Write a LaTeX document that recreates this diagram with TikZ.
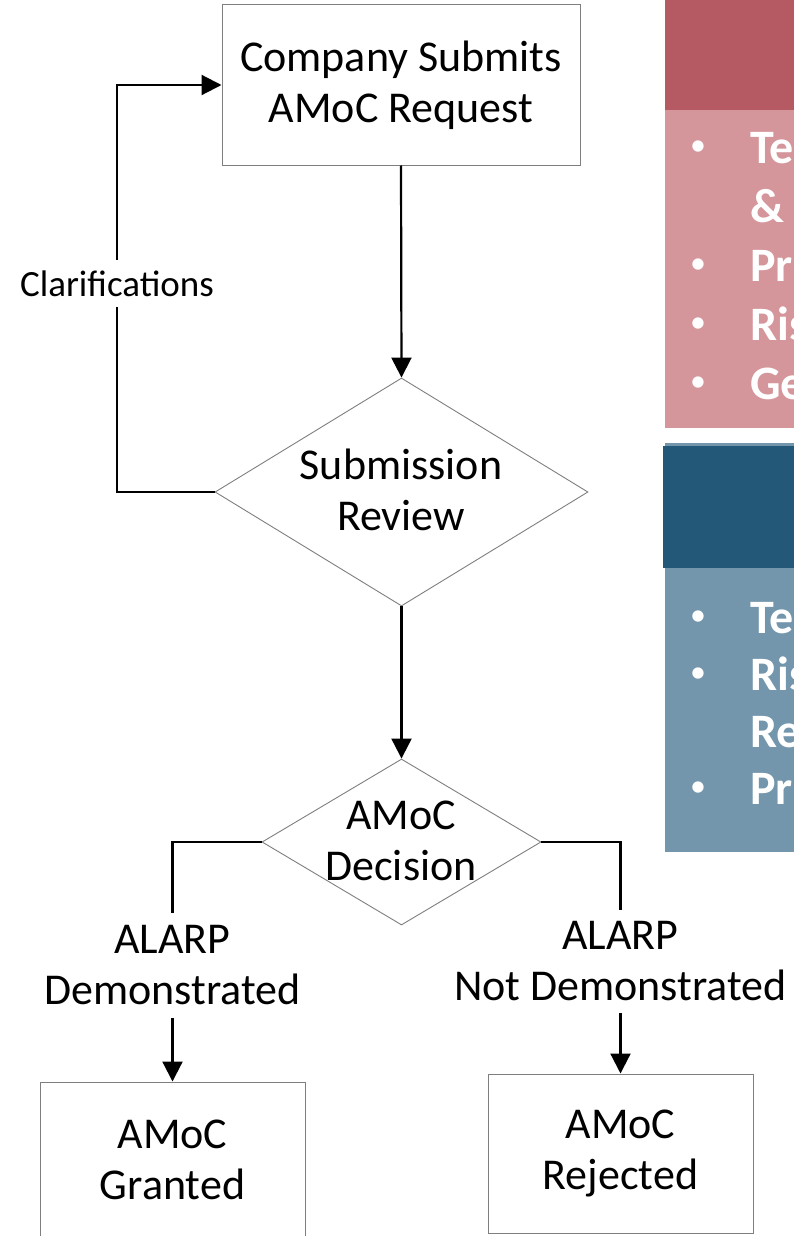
\documentclass[tikz,border=0pt]{standalone}
\usepackage{fontspec}
\setmainfont{Carlito}
\usetikzlibrary{shapes.geometric,arrows.meta}
\definecolor{redhead}{HTML}{B55A62}
\definecolor{redbody}{HTML}{D4969B}
\definecolor{bluehead}{HTML}{235878}
\definecolor{bluebody}{HTML}{7496AD}
\definecolor{edgegray}{HTML}{7F7F7F}
\newcommand{\bigtxt}{\fontsize{44}{51}\selectfont}
\newcommand{\cltxt}{\fontsize{37}{42}\selectfont}
\newcommand{\bultxt}{\fontsize{48}{58}\selectfont\bfseries}
\newcommand{\dottxt}{\fontsize{32}{40}\selectfont}
\tikzset{
  box/.style={draw=edgegray, line width=1pt, inner sep=0pt, align=center, font=\bigtxt},
  dia/.style={draw=edgegray, line width=0.9pt, diamond, inner sep=0pt},
  txt/.style={align=center, inner sep=0pt, font=\bigtxt},
  lab/.style={align=center, inner xsep=0pt, inner ysep=0pt, font=\bigtxt},
  line/.style={line width=2.2pt, black},
  conn/.style={line width=2.2pt, black, -{Triangle[length=20pt,width=20pt]}},
  bul/.style={anchor=center, inner sep=0pt, text=white, font=\dottxt},
  bultext/.style={anchor=base west, inner sep=0pt, text=white, font=\bultxt},
}
\begin{document}
\begin{tikzpicture}[x=1pt,y=-1pt]
\clip (0,0) rectangle (794,1236);
\fill[white] (0,0) rectangle (794,1236);
% right panels
\fill[redbody] (665,110) rectangle (800,428);
\fill[redhead] (665,0) rectangle (800,110);
\fill[bluebody] (665,443) rectangle (800,852);
\fill[bluehead] (663,446) rectangle (800,568);
\node[bul] (rb1) at (698,148) {•};
\node[bultext] (rt1) at (750,163) {Te};
\node[bultext] (rt2) at (750,222) {\&};
\node[bul] (rb3) at (698,266) {•};
\node[bultext] (rt3) at (750,281) {Pr};
\node[bul] (rb4) at (698,325) {•};
\node[bultext] (rt4) at (750,340) {Ris};
\node[bul] (rb5) at (698,384) {•};
\node[bultext] (rt5) at (750,399) {Ge};
\node[bul] (bb1) at (698,618) {•};
\node[bultext] (bt1) at (750,633) {Te};
\node[bul] (bb2) at (698,675) {•};
\node[bultext] (bt2) at (750,690) {Ris};
\node[bultext] (bt3) at (750,747) {Re};
\node[bul] (bb4) at (698,789) {•};
\node[bultext] (bt4) at (750,804) {Pr};
% flowchart
\node[box, minimum width=358pt, minimum height=160pt] (box1) at (401,85) {Company Submits\\AMoC Request};
\node[dia, minimum width=373pt, minimum height=228pt] (d1) at (401.5,492) {};
\node[txt] (d1t) at (401,490) {Submission\\Review};
\node[dia, minimum width=279pt, minimum height=166pt] (d2) at (401.5,842) {};
\node[txt] (d2t) at (401,841) {AMoC\\Decision};
\node[anchor=base, font=\cltxt, inner xsep=0pt, inner ysep=11pt, text height=25pt, text depth=0pt] (clar) at (117,296) {Clarifications};
\node[lab, minimum height=105pt] (labL) at (172.5,965.5) {ALARP\\Demonstrated};
\node[lab, minimum height=103pt] (labR) at (620.5,961.5) {ALARP\\Not Demonstrated};
\node[box, minimum width=265pt, minimum height=156pt] (box3) at (172.5,1160) {AMoC\\Granted};
\node[box, minimum width=265pt, minimum height=159pt] (box4) at (620.5,1153.5) {AMoC\\Rejected};
% connectors
\draw[conn] (box1.south) -- (d1.north);
\draw[conn] (d1.south) -- (d2.north);
\draw[line] (d1.west) -| (clar.south);
\draw[conn] (clar.north) |- (box1.west);
\draw[line] (d2.west) -| (labL.north);
\draw[conn] (labL.south) -- (box3.north);
\draw[line] (d2.east) -| (labR.north);
\draw[conn] (labR.south) -- (box4.north);
\end{tikzpicture}
\end{document}
